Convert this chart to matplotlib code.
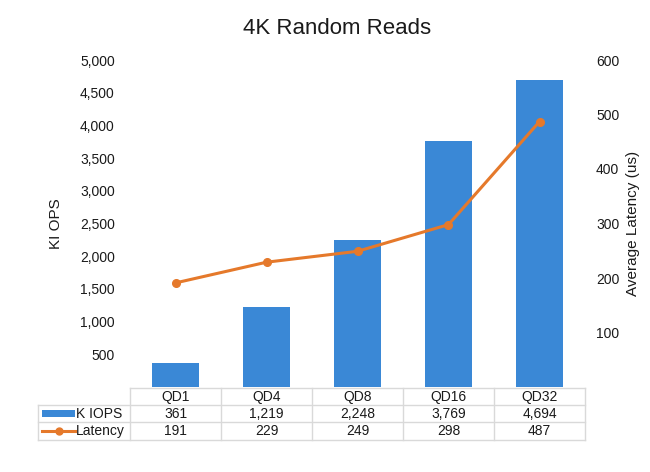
import matplotlib
matplotlib.use("Agg")
import matplotlib.pyplot as plt
from matplotlib.patches import Rectangle
from matplotlib.lines import Line2D

plt.rcParams['font.family'] = ['Liberation Sans', 'DejaVu Sans']

categories = ["QD1", "QD4", "QD8", "QD16", "QD32"]
kiops = [361, 1219, 2248, 3769, 4694]
latency = [191, 229, 249, 298, 487]
left_ticks = [500, 1000, 1500, 2000, 2500, 3000, 3500, 4000, 4500, 5000]
right_ticks = [100, 200, 300, 400, 500, 600]

BLUE = "#3A88D6"
ORANGE = "#E5792B"
GRID = "#D9D9D9"
TXT = "#1A1A1A"

W, H = 650, 472
fig = plt.figure(figsize=(6.5, 4.72), dpi=100)

x0, x1, yb, yt = 130, 585, 387, 60
ax = fig.add_axes([x0 / W, 1 - yb / H, (x1 - x0) / W, (yb - yt) / H])
ax2 = ax.twinx()

xs = list(range(len(categories)))
ax.bar(xs, kiops, width=0.52, color=BLUE, zorder=2)
ax2.plot(xs, latency, color=ORANGE, lw=2.2, marker='o', ms=5.5, zorder=3)

ax.set_xlim(-0.5, len(categories) - 0.5)
ax.set_ylim(0, 5000)
ax2.set_ylim(0, 600)
ax.set_yticks(left_ticks)
ax.set_yticklabels([f"{v:,}" for v in left_ticks])
ax2.set_yticks(right_ticks)
ax2.set_yticklabels([str(v) for v in right_ticks])
ax.set_xticks([])
for a in (ax, ax2):
    for s in a.spines.values():
        s.set_visible(False)
    a.tick_params(axis='y', length=0, labelsize=10, colors=TXT)
ax.tick_params(axis='y', pad=11)
ax2.tick_params(axis='y', pad=8)

ax.set_ylabel("KI OPS", fontsize=11, color=TXT, labelpad=12)
ax2.set_ylabel("Average Latency (us)", fontsize=11, color=TXT, labelpad=5)

fig.text(337 / W, 1 - 29 / H, "4K Random Reads", ha='center', va='center',
         fontsize=16, color=TXT)

# Data table drawn in figure pixel coordinates
def fx(px):
    return px / W

def fy(py):
    return 1 - py / H

rows_y = [388, 405, 422, 440]
col_x = [x0 + i * (x1 - x0) / len(categories) for i in range(len(categories) + 1)]
label_left = 38

lines = []
lines.append(((x0, x1), (rows_y[0], rows_y[0])))
for ry in rows_y[1:]:
    lines.append(((label_left, x1), (ry, ry)))
lines.append(((label_left, label_left), (rows_y[1], rows_y[3])))
for cx in col_x:
    lines.append(((cx, cx), (rows_y[0], rows_y[3])))
for (xa, xb), (ya, yb2) in lines:
    fig.add_artist(Line2D([fx(xa), fx(xb)], [fy(ya), fy(yb2)], color=GRID, lw=1))

for i, c in enumerate(categories):
    cx = (col_x[i] + col_x[i + 1]) / 2
    fig.text(fx(cx), fy((rows_y[0] + rows_y[1]) / 2), c, ha='center', va='center',
             fontsize=10, color=TXT)
    fig.text(fx(cx), fy((rows_y[1] + rows_y[2]) / 2), f"{kiops[i]:,}", ha='center',
             va='center', fontsize=10, color=TXT)
    fig.text(fx(cx), fy((rows_y[2] + rows_y[3]) / 2), str(latency[i]), ha='center',
             va='center', fontsize=10, color=TXT)

# legend keys
ym1 = (rows_y[1] + rows_y[2]) / 2
ym2 = (rows_y[2] + rows_y[3]) / 2
fig.add_artist(Rectangle((fx(42), fy(ym1 + 3.5)), fx(75) - fx(42), (7 / H),
                         color=BLUE, lw=0))
fig.text(fx(76), fy(ym1), "K IOPS", ha='left', va='center', fontsize=10, color=TXT)
fig.add_artist(Line2D([fx(42), fx(75)], [fy(ym2), fy(ym2)], color=ORANGE, lw=2.2))
fig.add_artist(Line2D([fx(58.5)], [fy(ym2)], color=ORANGE, marker='o', ms=5))
fig.text(fx(76), fy(ym2), "Latency", ha='left', va='center', fontsize=10, color=TXT)

fig.savefig("out.png", dpi=100, facecolor='white')
